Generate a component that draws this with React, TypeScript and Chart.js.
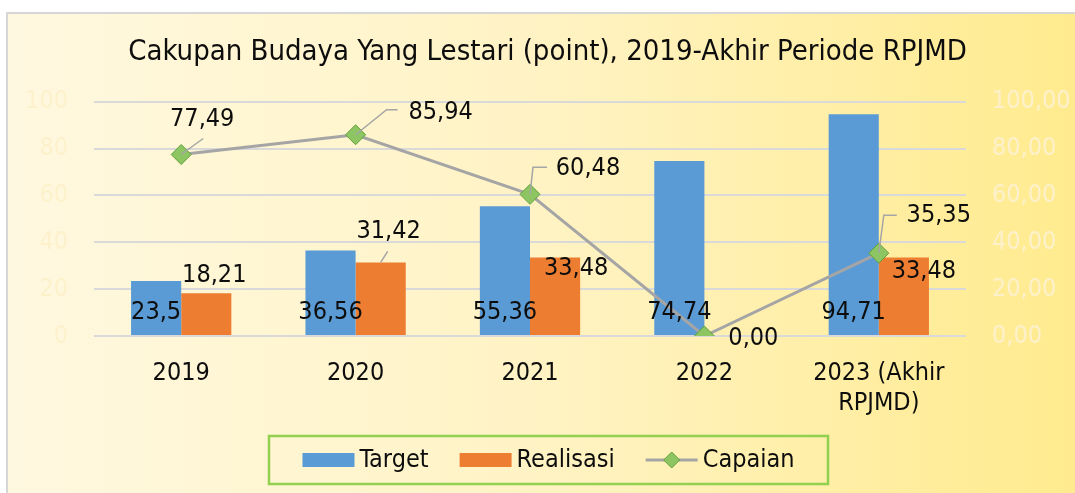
import React, { useEffect, useRef } from "react";
import { Chart, registerables } from "chart.js";

Chart.register(...registerables);

// ---------- data ----------
const chartTitle = "Cakupan Budaya Yang Lestari (point), 2019-Akhir Periode RPJMD";
const categories: (string | string[])[] = ["2019", "2020", "2021", "2022", ["2023 (Akhir", "RPJMD)"]];
const targetValues = [23.5, 36.56, 55.36, 74.74, 94.71];
const realisasiValues: (number | null)[] = [18.21, 31.42, 33.48, null, 33.48];
const capaianValues = [77.49, 85.94, 60.48, 0.0, 35.35];
const seriesNames = ["Target", "Realisasi", "Capaian"];
const axisMin = 0;
const axisMax = 100;
const axisStep = 20;

// ---------- label layout (pixel offsets, presentation only) ----------
const realisasiLabelOffsets = [[8, -18], [8, -31], [21, 11], [0, 0], [20, 14]];
const realisasiLeaders: number[][][] = [[], [[0, 0], [7, -11]], [], [], []];
const capaianLabelOffsets = [[21, -35], [85, -22], [58, -26], [49, 2], [60, -38]];
const capaianLeaders: number[][][] = [
  [[0, 0], [22, -16]],
  [[0, 0], [31, -25], [42, -25]],
  [[0, 0], [3, -27], [17, -27]],
  [],
  [[0, 0], [5, -38], [18, -38]],
];

const FONT = "'DejaVu Sans Condensed', 'DejaVu Sans', sans-serif";
const BLUE = "#5B9BD5";
const ORANGE = "#ED7D31";
const GRAY = "#A5A5A5";
const MARK_FILL = "#8CC562";
const MARK_BORDER = "#62A03A";
const TEXT = "#0D0D0D";
const FAINT = "#FDF1CC";

const fmtGeneral = (v: number) => String(v).replace(".", ",");
const fmt2 = (v: number) => v.toFixed(2).replace(".", ",");

const bgPlugin = {
  id: "bgFrame",
  beforeDraw(chart: any) {
    const { ctx, width, height } = chart;
    ctx.save();
    ctx.fillStyle = "#ffffff";
    ctx.fillRect(0, 0, width, height);
    const g = ctx.createLinearGradient(7, 0, width, 0);
    g.addColorStop(0, "#FFF8E0");
    g.addColorStop(0.5, "#FFF3C4");
    g.addColorStop(1, "#FFEB8E");
    ctx.fillStyle = g;
    ctx.fillRect(7, 13, width - 7, height - 13);
    ctx.strokeStyle = "#D6D6D6";
    ctx.lineWidth = 2;
    ctx.beginPath();
    ctx.moveTo(7, height);
    ctx.lineTo(7, 13);
    ctx.lineTo(width, 13);
    ctx.stroke();
    ctx.restore();
  },
};

function drawLeader(ctx: CanvasRenderingContext2D, x: number, y: number, pts: number[][]) {
  if (!pts.length) return;
  ctx.save();
  ctx.strokeStyle = GRAY;
  ctx.lineWidth = 1.5;
  ctx.beginPath();
  pts.forEach(([dx, dy], k) => (k === 0 ? ctx.moveTo(x + dx, y + dy) : ctx.lineTo(x + dx, y + dy)));
  ctx.stroke();
  ctx.restore();
}

const labelPlugin = {
  id: "dataLabels",
  afterDatasetsDraw(chart: any) {
    const { ctx } = chart;
    const yScale = chart.scales.y;
    const base = yScale.getPixelForValue(0);
    ctx.save();
    ctx.font = `25px ${FONT}`;
    ctx.fillStyle = TEXT;
    ctx.textAlign = "center";
    ctx.textBaseline = "middle";
    // Target
    chart.getDatasetMeta(0).data.forEach((bar: any, i: number) => {
      ctx.fillText(fmtGeneral(targetValues[i]), bar.x, base - 24);
    });
    // Realisasi
    chart.getDatasetMeta(1).data.forEach((bar: any, i: number) => {
      const v = realisasiValues[i];
      if (v === null || v === undefined) return;
      drawLeader(ctx, bar.x, bar.y, realisasiLeaders[i]);
      ctx.fillStyle = TEXT;
      const [dx, dy] = realisasiLabelOffsets[i];
      ctx.fillText(fmtGeneral(v), bar.x + dx, bar.y + dy);
    });
    // Capaian
    chart.getDatasetMeta(2).data.forEach((pt: any, i: number) => {
      drawLeader(ctx, pt.x, pt.y, capaianLeaders[i]);
      ctx.fillStyle = TEXT;
      const [dx, dy] = capaianLabelOffsets[i];
      ctx.fillText(fmt2(capaianValues[i]), pt.x + dx, pt.y + dy);
    });
    ctx.restore();
  },
};

const legendPlugin = {
  id: "customLegend",
  afterDraw(chart: any) {
    const { ctx } = chart;
    const box = { left: 269, top: 436, right: 828, bottom: 484 };
    const cy = (box.top + box.bottom) / 2;
    ctx.save();
    ctx.strokeStyle = "#92D050";
    ctx.lineWidth = 2.5;
    ctx.strokeRect(box.left, box.top, box.right - box.left, box.bottom - box.top);
    ctx.font = `25px ${FONT}`;
    ctx.textBaseline = "middle";
    ctx.textAlign = "left";
    const sw = 52;
    const gapText = 5;
    const gapItem = 31;
    const widths = seriesNames.map((n) => sw + gapText + ctx.measureText(n).width);
    const total = widths.reduce((a, b) => a + b, 0) + gapItem * (seriesNames.length - 1);
    let x = (box.left + box.right) / 2 - total / 2;
    seriesNames.forEach((name, i) => {
      if (i < 2) {
        ctx.fillStyle = i === 0 ? BLUE : ORANGE;
        ctx.fillRect(x, cy - 7, sw, 14);
      } else {
        ctx.strokeStyle = GRAY;
        ctx.lineWidth = 3;
        ctx.beginPath();
        ctx.moveTo(x, cy);
        ctx.lineTo(x + sw, cy);
        ctx.stroke();
        const mx = x + sw / 2;
        const r = 8;
        ctx.beginPath();
        ctx.moveTo(mx, cy - r);
        ctx.lineTo(mx + r, cy);
        ctx.lineTo(mx, cy + r);
        ctx.lineTo(mx - r, cy);
        ctx.closePath();
        ctx.fillStyle = MARK_FILL;
        ctx.fill();
        ctx.strokeStyle = MARK_BORDER;
        ctx.lineWidth = 1;
        ctx.stroke();
      }
      ctx.fillStyle = TEXT;
      ctx.fillText(name, x + sw + gapText, cy);
      x += widths[i] + gapItem;
    });
    ctx.restore();
  },
};

export default function App() {
  const canvasRef = useRef<HTMLCanvasElement | null>(null);

  useEffect(() => {
    if (!canvasRef.current) return;
    const chart = new Chart(canvasRef.current, {
      type: "bar",
      data: {
        labels: categories as any,
        datasets: [
          {
            type: "bar",
            label: seriesNames[0],
            data: targetValues,
            backgroundColor: BLUE,
            yAxisID: "y",
            order: 1,
            categoryPercentage: 0.575,
            barPercentage: 1,
          },
          {
            type: "bar",
            label: seriesNames[1],
            data: realisasiValues,
            backgroundColor: ORANGE,
            yAxisID: "y",
            order: 1,
            categoryPercentage: 0.575,
            barPercentage: 1,
          },
          {
            type: "line",
            label: seriesNames[2],
            data: capaianValues,
            borderColor: GRAY,
            borderWidth: 3,
            tension: 0,
            pointStyle: "rectRot",
            pointRadius: 10,
            pointBackgroundColor: MARK_FILL,
            pointBorderColor: MARK_BORDER,
            pointBorderWidth: 1,
            yAxisID: "y1",
            order: 0,
          } as any,
        ],
      },
      options: {
        responsive: false,
        animation: false,
        layout: { padding: { left: 20, right: 0, top: 0, bottom: 67 } },
        plugins: {
          legend: { display: false },
          tooltip: { enabled: false },
          title: {
            display: true,
            text: chartTitle,
            color: TEXT,
            font: { family: FONT, size: 29, weight: "normal", lineHeight: 1.2 },
            padding: { top: 35, bottom: 32 },
          },
        },
        scales: {
          x: {
            grid: { display: false },
            border: { display: false },
            ticks: {
              color: TEXT,
              font: { family: FONT, size: 25, lineHeight: 1.2 },
              padding: 14,
              maxRotation: 0,
              autoSkip: false,
            },
            afterFit: (s: any) => {
              s.height = 90;
            },
          },
          y: {
            position: "left",
            min: axisMin,
            max: axisMax,
            grid: { color: "#D9D9D9", lineWidth: 2, drawTicks: false },
            border: { display: false },
            ticks: {
              stepSize: axisStep,
              color: FAINT,
              font: { family: FONT, size: 25 },
              padding: 26,
            },
            afterFit: (s: any) => {
              s.width = 74;
            },
          },
          y1: {
            position: "right",
            min: axisMin,
            max: axisMax,
            grid: { drawOnChartArea: false, drawTicks: false },
            border: { display: false },
            ticks: {
              stepSize: axisStep,
              color: FAINT,
              font: { family: FONT, size: 25 },
              padding: 26,
              callback: (v: any) => fmt2(Number(v)),
            },
            afterFit: (s: any) => {
              s.width = 109;
            },
          },
        },
      } as any,
      plugins: [bgPlugin, labelPlugin, legendPlugin],
    });
    return () => chart.destroy();
  }, []);

  return (
    <div style={{ position: "fixed", left: 0, top: 0, width: 1075, height: 493 }}>
      <canvas ref={canvasRef} width={1075} height={493} style={{ display: "block" }} />
    </div>
  );
}
